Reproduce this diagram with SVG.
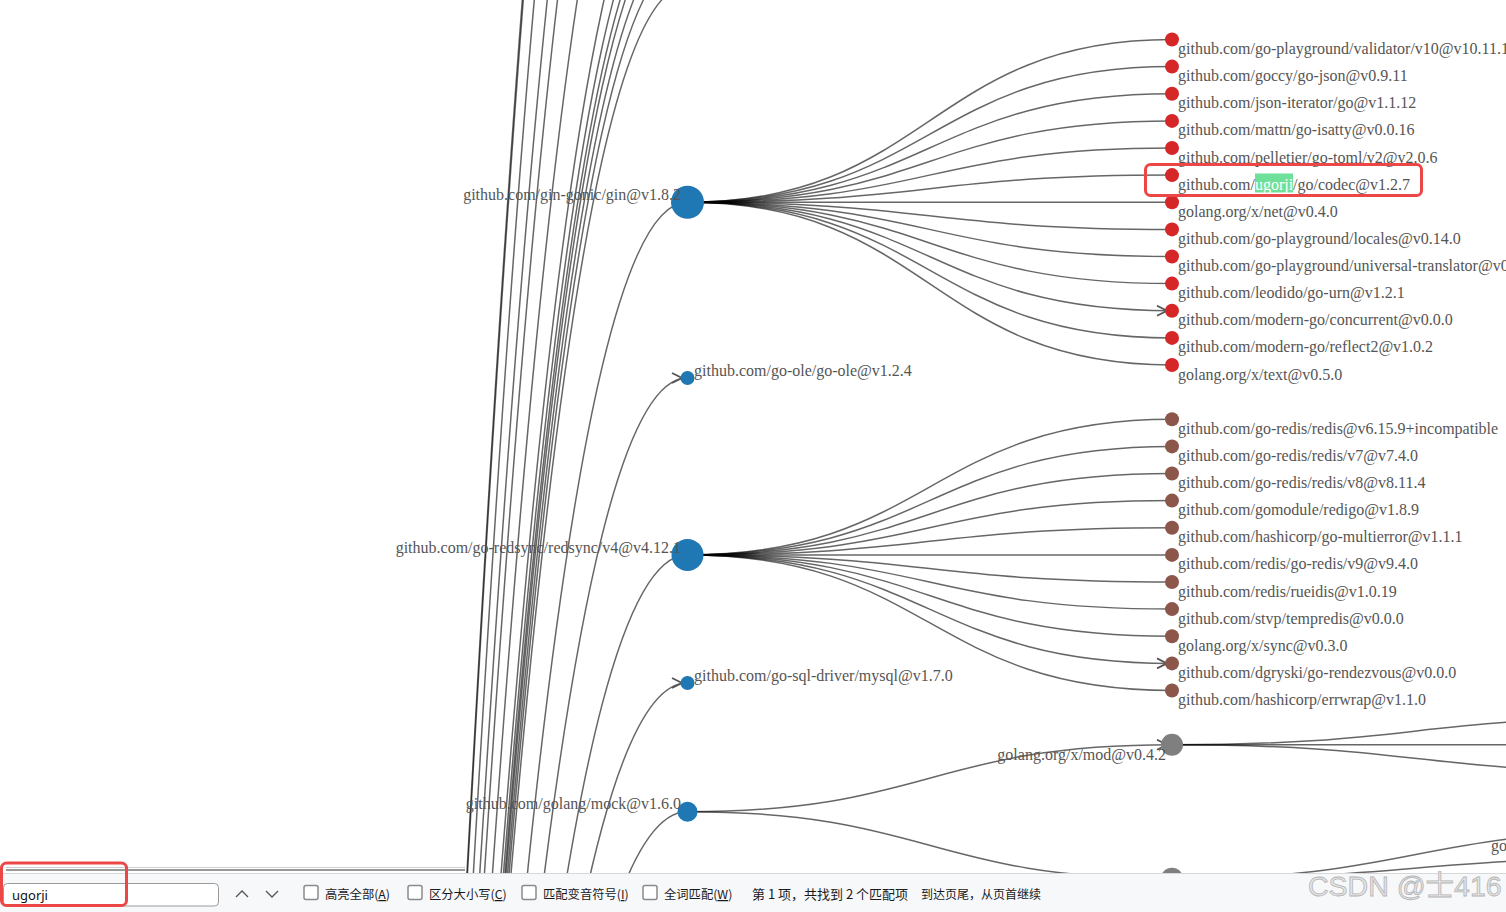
<svg xmlns="http://www.w3.org/2000/svg" width="1506" height="912" viewBox="0 0 1506 912">
<style>
.lk{fill:none;stroke:#000;stroke-opacity:0.6;stroke-width:1.5}
.lb{font-family:"Liberation Serif","Times New Roman",serif;font-size:16px;fill:#555}
.ui{font-family:"Noto Sans CJK SC","Noto Sans",sans-serif;font-size:12.3px;fill:#1a1a1a}
.cb{fill:#fff;stroke:#8a8a8a;stroke-width:1.5}
.n1{fill:#1f77b4}.n2r{fill:#d62728}.n2b{fill:#8c564b}.n2g{fill:#7f7f7f}
</style>
<defs>
<marker id="arr" viewBox="0 -6 12 12" refX="16" refY="0" markerWidth="12" markerHeight="12" markerUnits="userSpaceOnUse" orient="auto">
<path d="M1,-5 L11,0 L1,5" fill="none" stroke="#555" stroke-width="1.8"/>
</marker>
</defs>
<rect width="1506" height="912" fill="#fff"/>
<g id="connectors">
<path class="lk" d="M175,4046 C431,4046 431,-935 687,-935"/>
<path class="lk" d="M175,4046 C431,4046 431,-920 687,-920"/>
<path class="lk" d="M175,4046 C431,4046 431,-759 687,-759"/>
<path class="lk" d="M175,4046 C431,4046 431,-600 687,-600"/>
<path class="lk" d="M175,4046 C431,4046 431,-494 687,-494"/>
<path class="lk" d="M175,4046 C431,4046 431,-329 687,-329"/>
<path class="lk" d="M175,4046 C431,4046 431,-172 687,-172"/>
<path class="lk" d="M175,4046 C431,4046 431,-132 687,-132"/>
<path class="lk" d="M175,4046 C431,4046 431,-107 687,-107"/>
<path class="lk" d="M175,4046 C431,4046 431,-90 687,-90"/>
<path class="lk" d="M175,4046 C431,4046 431,-66 687,-66"/>
<path class="lk" d="M175,4046 C431,4046 431,-43 687,-43"/>
<path class="lk" d="M175,4046 C431,4046 431,-14 687,-14"/>
<path class="lk" d="M175,4046 C431,4046 431,202.25 687,202.25"/>
<path class="lk" d="M175,4046 C431,4046 431,378 687,378" marker-end="url(#arr)"/>
<path class="lk" d="M175,4046 C431,4046 431,554.9 687,554.9"/>
<path class="lk" d="M175,4046 C431,4046 431,683 687,683" marker-end="url(#arr)"/>
<path class="lk" d="M175,4046 C431,4046 431,811.7 687,811.7"/>
<path class="lk" d="M687,202.25 C929.5,202.25 929.5,39.5 1172,39.5"/>
<path class="lk" d="M687,202.25 C929.5,202.25 929.5,66.6 1172,66.6"/>
<path class="lk" d="M687,202.25 C929.5,202.25 929.5,93.75 1172,93.75"/>
<path class="lk" d="M687,202.25 C929.5,202.25 929.5,120.9 1172,120.9"/>
<path class="lk" d="M687,202.25 C929.5,202.25 929.5,148 1172,148"/>
<path class="lk" d="M687,202.25 C929.5,202.25 929.5,175.1 1172,175.1"/>
<path class="lk" d="M687,202.25 C929.5,202.25 929.5,202.25 1172,202.25"/>
<path class="lk" d="M687,202.25 C929.5,202.25 929.5,229.4 1172,229.4"/>
<path class="lk" d="M687,202.25 C929.5,202.25 929.5,256.5 1172,256.5"/>
<path class="lk" d="M687,202.25 C929.5,202.25 929.5,283.6 1172,283.6"/>
<path class="lk" d="M687,202.25 C929.5,202.25 929.5,310.75 1172,310.75" marker-end="url(#arr)"/>
<path class="lk" d="M687,202.25 C929.5,202.25 929.5,337.9 1172,337.9"/>
<path class="lk" d="M687,202.25 C929.5,202.25 929.5,365 1172,365"/>
<path class="lk" d="M687,554.9 C929.5,554.9 929.5,419.25 1172,419.25"/>
<path class="lk" d="M687,554.9 C929.5,554.9 929.5,446.4 1172,446.4"/>
<path class="lk" d="M687,554.9 C929.5,554.9 929.5,473.5 1172,473.5"/>
<path class="lk" d="M687,554.9 C929.5,554.9 929.5,500.6 1172,500.6"/>
<path class="lk" d="M687,554.9 C929.5,554.9 929.5,527.75 1172,527.75"/>
<path class="lk" d="M687,554.9 C929.5,554.9 929.5,554.9 1172,554.9"/>
<path class="lk" d="M687,554.9 C929.5,554.9 929.5,582 1172,582"/>
<path class="lk" d="M687,554.9 C929.5,554.9 929.5,609.1 1172,609.1"/>
<path class="lk" d="M687,554.9 C929.5,554.9 929.5,636.25 1172,636.25"/>
<path class="lk" d="M687,554.9 C929.5,554.9 929.5,663.4 1172,663.4" marker-end="url(#arr)"/>
<path class="lk" d="M687,554.9 C929.5,554.9 929.5,690.5 1172,690.5"/>
<path class="lk" d="M687,811.7 C929.5,811.7 929.5,744.75 1172,744.75" marker-end="url(#arr)"/>
<path class="lk" d="M687,811.7 C929.5,811.7 929.5,878.65 1172,878.65"/>
<path class="lk" d="M1172,744.75 C1414.5,744.75 1414.5,717.6 1657,717.6"/>
<path class="lk" d="M1172,744.75 C1414.5,744.75 1414.5,744.75 1657,744.75"/>
<path class="lk" d="M1172,744.75 C1414.5,744.75 1414.5,771.9 1657,771.9"/>
<path class="lk" d="M1172,878.65 C1414.5,878.65 1414.5,831 1657,831"/>
<path class="lk" d="M1172,878.65 C1414.5,878.65 1414.5,858 1657,858"/>
<line x1="6" y1="867.5" x2="465" y2="867.5" stroke="#d0d0d0" stroke-width="1"/>
<line x1="6" y1="870" x2="465" y2="870" stroke="#777" stroke-width="1.5"/>
</g>
<g id="node-gin"><circle class="n1" cx="687.5" cy="202.25" r="16.5"/><text class="lb" x="681" y="199.5" text-anchor="end">github.com/gin-gonic/gin@v1.8.2</text></g>
<g id="node-goole"><circle class="n1" cx="687.5" cy="378" r="7"/><text class="lb" x="694" y="376">github.com/go-ole/go-ole@v1.2.4</text></g>
<g id="node-redsync"><circle class="n1" cx="687.5" cy="554.9" r="16"/><text class="lb" x="681" y="552.5" text-anchor="end">github.com/go-redsync/redsync/v4@v4.12.1</text></g>
<g id="node-mysql"><circle class="n1" cx="687.5" cy="683" r="7"/><text class="lb" x="694" y="681">github.com/go-sql-driver/mysql@v1.7.0</text></g>
<g id="node-mock"><circle class="n1" cx="687.5" cy="811.7" r="10"/><text class="lb" x="681" y="809" text-anchor="end">github.com/golang/mock@v1.6.0</text></g>
<g id="node-validator"><circle class="n2r" cx="1172" cy="39.5" r="7"/><text class="lb" x="1178" y="54">github.com/go-playground/validator/v10@v10.11.1</text></g>
<g id="node-gojson"><circle class="n2r" cx="1172" cy="66.6" r="7"/><text class="lb" x="1178" y="81.1">github.com/goccy/go-json@v0.9.11</text></g>
<g id="node-jsoniter"><circle class="n2r" cx="1172" cy="93.75" r="7"/><text class="lb" x="1178" y="108.25">github.com/json-iterator/go@v1.1.12</text></g>
<g id="node-isatty"><circle class="n2r" cx="1172" cy="120.9" r="7"/><text class="lb" x="1178" y="135.4">github.com/mattn/go-isatty@v0.0.16</text></g>
<g id="node-toml"><circle class="n2r" cx="1172" cy="148" r="7"/><text class="lb" x="1178" y="162.5">github.com/pelletier/go-toml/v2@v2.0.6</text></g>
<g id="node-codec"><circle class="n2r" cx="1172" cy="175.1" r="7"/><rect x="1255" y="173.5" width="38" height="19" fill="#6fe09a"/><text class="lb" x="1178" y="189.6">github.com/<tspan fill="#fff">ugorji</tspan>/go/codec@v1.2.7</text></g>
<g id="node-net"><circle class="n2r" cx="1172" cy="202.25" r="7"/><text class="lb" x="1178" y="216.75">golang.org/x/net@v0.4.0</text></g>
<g id="node-locales"><circle class="n2r" cx="1172" cy="229.4" r="7"/><text class="lb" x="1178" y="243.9">github.com/go-playground/locales@v0.14.0</text></g>
<g id="node-ut"><circle class="n2r" cx="1172" cy="256.5" r="7"/><text class="lb" x="1178" y="271">github.com/go-playground/universal-translator@v0</text></g>
<g id="node-urn"><circle class="n2r" cx="1172" cy="283.6" r="7"/><text class="lb" x="1178" y="298.1">github.com/leodido/go-urn@v1.2.1</text></g>
<g id="node-concurrent"><circle class="n2r" cx="1172" cy="310.75" r="7"/><text class="lb" x="1178" y="325.25">github.com/modern-go/concurrent@v0.0.0</text></g>
<g id="node-reflect2"><circle class="n2r" cx="1172" cy="337.9" r="7"/><text class="lb" x="1178" y="352.4">github.com/modern-go/reflect2@v1.0.2</text></g>
<g id="node-text"><circle class="n2r" cx="1172" cy="365" r="7"/><text class="lb" x="1178" y="379.5">golang.org/x/text@v0.5.0</text></g>
<g id="node-redis6"><circle class="n2b" cx="1172" cy="419.25" r="7"/><text class="lb" x="1178" y="433.75">github.com/go-redis/redis@v6.15.9+incompatible</text></g>
<g id="node-redis7"><circle class="n2b" cx="1172" cy="446.4" r="7"/><text class="lb" x="1178" y="460.9">github.com/go-redis/redis/v7@v7.4.0</text></g>
<g id="node-redis8"><circle class="n2b" cx="1172" cy="473.5" r="7"/><text class="lb" x="1178" y="488">github.com/go-redis/redis/v8@v8.11.4</text></g>
<g id="node-redigo"><circle class="n2b" cx="1172" cy="500.6" r="7"/><text class="lb" x="1178" y="515.1">github.com/gomodule/redigo@v1.8.9</text></g>
<g id="node-multierror"><circle class="n2b" cx="1172" cy="527.75" r="7"/><text class="lb" x="1178" y="542.25">github.com/hashicorp/go-multierror@v1.1.1</text></g>
<g id="node-redis9"><circle class="n2b" cx="1172" cy="554.9" r="7"/><text class="lb" x="1178" y="569.4">github.com/redis/go-redis/v9@v9.4.0</text></g>
<g id="node-rueidis"><circle class="n2b" cx="1172" cy="582" r="7"/><text class="lb" x="1178" y="596.5">github.com/redis/rueidis@v1.0.19</text></g>
<g id="node-tempredis"><circle class="n2b" cx="1172" cy="609.1" r="7"/><text class="lb" x="1178" y="623.6">github.com/stvp/tempredis@v0.0.0</text></g>
<g id="node-sync"><circle class="n2b" cx="1172" cy="636.25" r="7"/><text class="lb" x="1178" y="650.75">golang.org/x/sync@v0.3.0</text></g>
<g id="node-rendezvous"><circle class="n2b" cx="1172" cy="663.4" r="7"/><text class="lb" x="1178" y="677.9">github.com/dgryski/go-rendezvous@v0.0.0</text></g>
<g id="node-errwrap"><circle class="n2b" cx="1172" cy="690.5" r="7"/><text class="lb" x="1178" y="705">github.com/hashicorp/errwrap@v1.1.0</text></g>
<g id="node-mod"><circle class="n2g" cx="1172" cy="744.75" r="11"/><text class="lb" x="1166" y="759.5" text-anchor="end">golang.org/x/mod@v0.4.2</text></g>
<g id="node-lower"><circle class="n2g" cx="1172" cy="878.65" r="11"/></g>
<g id="node-go"><text class="lb" x="1491" y="851">go</text></g>
<rect x="1145.5" y="164.5" width="276" height="31" rx="5" fill="none" stroke="#ec4646" stroke-width="3"/>
<g id="findbar">
<rect x="0" y="873" width="1506" height="39" fill="#f7f8fa"/>
<line x1="0" y1="873.5" x2="1506" y2="873.5" stroke="#d8d8d8" stroke-width="1"/>
<rect x="3.5" y="883.5" width="215" height="22.5" rx="4" fill="#fff" stroke="#9a9a9a" stroke-width="1"/>
<text x="12" y="899.5" style="font-family:'Noto Sans','Noto Sans CJK SC',sans-serif;font-size:13px;fill:#111">ugorji</text>
<path d="M236,897 L242,891 L248,897" fill="none" stroke="#555" stroke-width="1.3"/>
<path d="M266,891 L272,897 L278,891" fill="none" stroke="#555" stroke-width="1.3"/>
<rect class="cb" x="304" y="885.5" width="14" height="14" rx="2"/>
<text class="ui" x="325" y="899">高亮全部(<tspan text-decoration="underline">A</tspan>)</text>
<rect class="cb" x="408" y="885.5" width="14" height="14" rx="2"/>
<text class="ui" x="429" y="899">区分大小写(<tspan text-decoration="underline">C</tspan>)</text>
<rect class="cb" x="522" y="885.5" width="14" height="14" rx="2"/>
<text class="ui" x="543" y="899">匹配变音符号(<tspan text-decoration="underline">I</tspan>)</text>
<rect class="cb" x="643" y="885.5" width="14" height="14" rx="2"/>
<text class="ui" x="664" y="899">全词匹配(<tspan text-decoration="underline">W</tspan>)</text>
<text class="ui" x="752" y="899" style="font-size:13px">第 1 项，共找到 2 个匹配项</text>
<text class="ui" x="921" y="899" style="font-size:12px">到达页尾，从页首继续</text>
<text x="1308" y="896" style="font-family:'Liberation Sans','Noto Sans CJK SC',sans-serif;font-size:28.5px;fill:#e6e6e6;stroke:#b4b4b4;stroke-width:0.8">CSDN @士416</text>
</g>
<rect x="1.5" y="863" width="125" height="42.5" rx="5" fill="none" stroke="#ec4646" stroke-width="3"/>
</svg>
